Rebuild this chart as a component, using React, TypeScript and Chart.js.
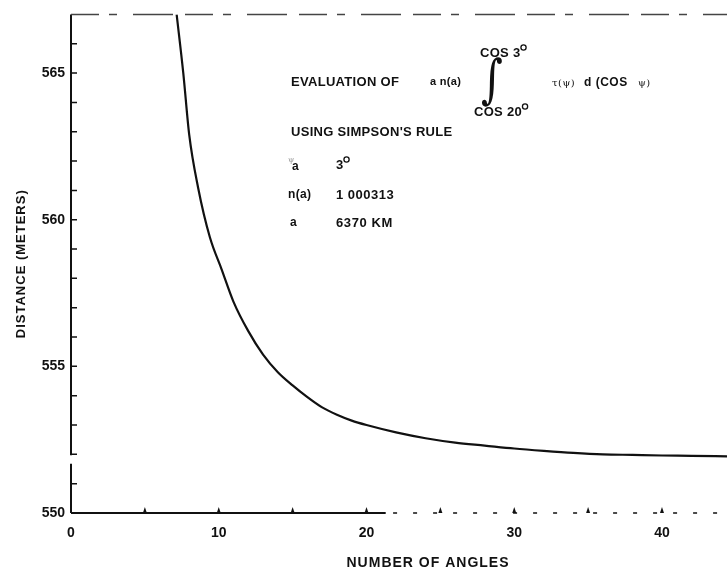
import React, { useEffect, useRef } from "react";
import { Chart, registerables } from "chart.js";

Chart.register(...registerables);

// ---- data ----
const angleCounts = [7.15, 7.6, 8.0, 8.6, 9.4, 10.2, 11.0, 12.0, 13.0, 14.0, 15.0, 16.0, 17.0, 18.0, 19.0, 20.0, 22.0, 24.0, 26.0, 28.0, 30.0, 32.0, 34.0, 36.0, 38.0, 40.0, 42.0, 44.4];
const distances = [567.0, 565.0, 562.9, 561.1, 559.4, 558.3, 557.2, 556.2, 555.4, 554.8, 554.35, 553.95, 553.6, 553.35, 553.15, 553.0, 552.75, 552.55, 552.4, 552.3, 552.2, 552.12, 552.05, 552.0, 551.98, 551.96, 551.95, 551.93];

const xLabelTicks = [0, 10, 20, 30, 40];
const xMarkTicks = [5, 10, 15, 20, 25, 30, 35, 40];
const yLabelTicks = [550, 555, 560, 565];
const yMarkTicks = [551, 552, 553, 554, 555, 556, 557, 558, 559, 560, 561, 562, 563, 564, 565, 566];
const xRange = [0, 44.4];
const yRange = [550, 567];
const xTitle = "NUMBER OF ANGLES";
const yTitle = "DISTANCE (METERS)";

const FONT = "'Liberation Sans', Arial, Helvetica, sans-serif";
const INK = "#111";

function text(ctx: CanvasRenderingContext2D, s: string, x: number, y: number, size: number, align: CanvasTextAlign = "left", spacing = 0.3): number {
  ctx.font = `bold ${size}px ${FONT}`;
  (ctx as any).letterSpacing = `${spacing}px`;
  ctx.textAlign = align;
  ctx.textBaseline = "middle";
  ctx.fillText(s, x, y);
  return x + ctx.measureText(s).width;
}

function withDegree(ctx: CanvasRenderingContext2D, s: string, x: number, y: number, size: number) {
  const end = text(ctx, s, x, y, size, "left", 0.3);
  ctx.lineWidth = 1.3;
  ctx.beginPath();
  ctx.arc(end + 3, y - size * 0.42, 2.6, 0, Math.PI * 2);
  ctx.stroke();
}

function greek(ctx: CanvasRenderingContext2D, s: string, x: number, y: number, size: number, color = INK) {
  ctx.font = `${size}px 'DejaVu Serif', serif`;
  (ctx as any).letterSpacing = "0.5px";
  ctx.textAlign = "left";
  ctx.textBaseline = "middle";
  ctx.fillStyle = color;
  ctx.fillText(s, x, y);
  ctx.fillStyle = INK;
}

const decorations = {
  id: "decorations",
  afterDraw(chart: any) {
    const { ctx, scales, chartArea } = chart;
    const x = scales.x;
    const y = scales.y;
    ctx.save();
    ctx.strokeStyle = INK;
    ctx.fillStyle = INK;

    const ax = x.getPixelForValue(xRange[0]);
    const ay = y.getPixelForValue(yRange[0]);
    const topY = y.getPixelForValue(yRange[1]);

    // y axis (with the small break near the bottom)
    ctx.lineWidth = 2;
    ctx.beginPath();
    ctx.moveTo(ax, topY);
    ctx.lineTo(ax, y.getPixelForValue(551.97));
    ctx.moveTo(ax, y.getPixelForValue(551.68));
    ctx.lineTo(ax, ay);
    ctx.stroke();

    // x axis: solid then broken
    ctx.beginPath();
    ctx.moveTo(ax, ay);
    ctx.lineTo(x.getPixelForValue(21.3), ay);
    ctx.stroke();
    ctx.lineWidth = 1.5;
    ctx.setLineDash([4, 16]);
    ctx.beginPath();
    ctx.moveTo(x.getPixelForValue(21.8), ay);
    ctx.lineTo(chartArea.right, ay);
    ctx.stroke();

    // top frame: faint broken line
    ctx.strokeStyle = "#444";
    ctx.lineWidth = 1.5;
    ctx.setLineDash([28, 10, 8, 16, 40, 12]);
    ctx.beginPath();
    ctx.moveTo(ax, topY);
    ctx.lineTo(chartArea.right, topY);
    ctx.stroke();
    ctx.setLineDash([]);
    ctx.strokeStyle = INK;

    // y tick marks (inward)
    ctx.lineWidth = 1.5;
    ctx.beginPath();
    for (const v of yMarkTicks) {
      const py = y.getPixelForValue(v);
      ctx.moveTo(ax, py);
      ctx.lineTo(ax + 6, py);
    }
    ctx.stroke();

    // x tick marks (small upward spikes)
    for (const v of xMarkTicks) {
      const px = x.getPixelForValue(v);
      ctx.beginPath();
      ctx.moveTo(px - 2, ay);
      ctx.lineTo(px, ay - 6);
      ctx.lineTo(px + 2, ay);
      ctx.closePath();
      ctx.fill();
    }

    // axis titles
    text(ctx, xTitle, 428, 563, 14, "center", 1);
    ctx.save();
    ctx.translate(21, (chartArea.top + chartArea.bottom) / 2);
    ctx.rotate(-Math.PI / 2);
    text(ctx, yTitle, 0, 0, 13, "center", 1);
    ctx.restore();

    // annotation block
    withDegree(ctx, "COS 3", 480, 53, 13);
    text(ctx, "EVALUATION OF", 291, 82, 13, "left", 0.3);
    text(ctx, "a n(a)", 430, 82, 11, "left", 0.3);
    // integral sign
    ctx.save();
    ctx.font = `42px 'DejaVu Serif', serif`;
    (ctx as any).letterSpacing = "0px";
    ctx.textAlign = "center";
    ctx.textBaseline = "middle";
    ctx.translate(492, 83);
    ctx.scale(1, 1.25);
    ctx.fillText("∫", 0, 0);
    ctx.restore();
    withDegree(ctx, "COS 20", 474, 112, 13);
    greek(ctx, "τ(ψ)", 552, 83, 10);
    text(ctx, "d (COS", 584, 83, 12, "left", 0.5);
    greek(ctx, "ψ)", 638, 83, 10);

    text(ctx, "USING SIMPSON'S RULE", 291, 132, 13, "left", 0.3);
    greek(ctx, "ψ", 288, 160, 8, "#999");
    text(ctx, "a", 292, 167, 12, "left", 0);
    withDegree(ctx, "3", 336, 165, 13);
    text(ctx, "n(a)", 288, 195, 12, "left", 0.3);
    text(ctx, "1 000313", 336, 195, 13, "left", 0.5);
    text(ctx, "a", 290, 223, 12, "left", 0);
    text(ctx, "6370 KM", 336, 223, 13, "left", 0.6);

    ctx.restore();
  },
};

export default function App() {
  const ref = useRef<HTMLCanvasElement>(null);

  useEffect(() => {
    document.body.style.margin = "0";
    const canvas = ref.current!;
    const chart = new Chart(canvas, {
      type: "line",
      data: {
        datasets: [
          {
            data: angleCounts.map((a, i) => ({ x: a, y: distances[i] })),
            borderColor: INK,
            borderWidth: 2.2,
            pointRadius: 0,
            fill: false,
            cubicInterpolationMode: "monotone",
          },
        ],
      },
      options: {
        responsive: false,
        animation: false,
        devicePixelRatio: 1,
        layout: { padding: { top: 8, right: 0, left: 0, bottom: 0 } },
        plugins: { legend: { display: false }, tooltip: { enabled: false } },
        scales: {
          x: {
            type: "linear",
            min: xRange[0],
            max: xRange[1],
            afterBuildTicks: (s: any) => {
              s.ticks = xLabelTicks.map((v) => ({ value: v }));
            },
            afterFit: (s: any) => {
              s.height = 60;
            },
            grid: { display: false, drawTicks: false },
            border: { display: false },
            ticks: {
              color: INK,
              padding: 12,
              maxRotation: 0,
              font: { family: FONT, size: 14, weight: "bold" },
              callback: (v: any) => String(v),
            },
          },
          y: {
            type: "linear",
            min: yRange[0],
            max: yRange[1],
            afterBuildTicks: (s: any) => {
              s.ticks = yLabelTicks.map((v) => ({ value: v }));
            },
            afterFit: (s: any) => {
              s.width = 71;
            },
            grid: { display: false, drawTicks: false },
            border: { display: false },
            ticks: {
              color: INK,
              padding: 6,
              font: { family: FONT, size: 14, weight: "bold" },
              callback: (v: any) => String(v),
            },
          },
        },
      },
      plugins: [decorations],
    } as any);
    return () => chart.destroy();
  }, []);

  return (
    <div style={{ position: "fixed", left: 0, top: 0, width: 727, height: 573, background: "#fff" }}>
      <canvas ref={ref} width={727} height={573} style={{ display: "block", width: 727, height: 573 }} />
    </div>
  );
}
